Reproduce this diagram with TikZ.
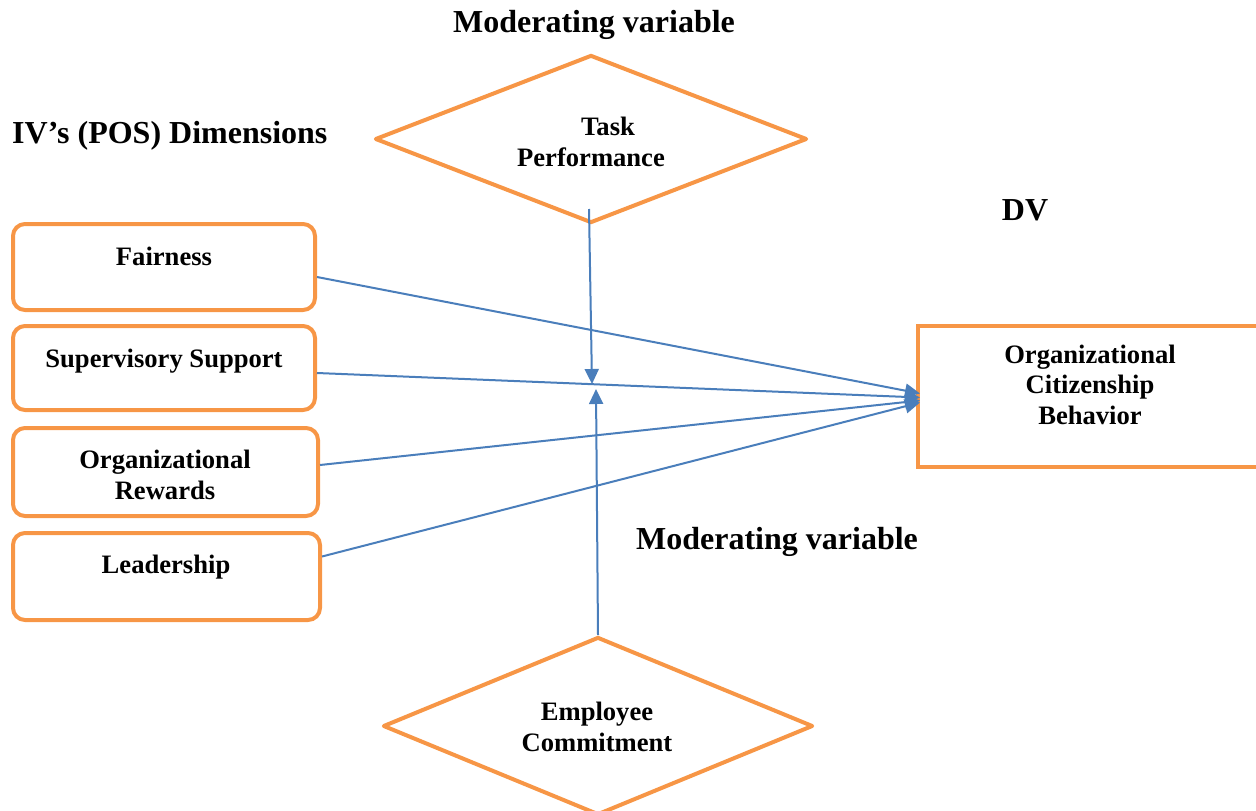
\documentclass[tikz,border=0pt]{standalone}
\usepackage{fontspec}
\setmainfont{Liberation Serif}
\usetikzlibrary{shapes.geometric,arrows.meta,calc}
\definecolor{orng}{HTML}{F79646}
\definecolor{blu}{HTML}{4A7EBB}
\begin{document}
\begin{tikzpicture}[x=1pt,y=-1pt,
  ivbox/.style={draw=orng,line width=4pt,rounded corners=12pt,anchor=north west,inner sep=0pt,outer sep=0pt},
  dvbox/.style={draw=orng,line width=4pt,anchor=north west,inner sep=0pt,outer sep=0pt},
  dia/.style={draw=orng,line width=4pt,diamond,line join=round,inner sep=0pt},
  lbl/.style={font=\fontsize{26.6}{30.5}\selectfont\bfseries,align=center,inner sep=0pt},
  ttl/.style={font=\fontsize{32}{36}\selectfont\bfseries,inner sep=0pt},
  conn/.style={draw=blu,line width=2pt,-{Triangle[length=15pt,width=14pt]}}]
\useasboundingbox (0,0) rectangle (1256,811);
\clip (0,0) rectangle (1256,811);
% titles
\node[ttl] (t1) at (594,25) {Moderating variable};
\node[ttl,anchor=west] (t2) at (12,136) {IV’s (POS) Dimensions};
\node[ttl] (t3) at (1025,210) {DV};
\node[ttl] (t4) at (777,542) {Moderating variable};
% IV boxes
\node[ivbox,minimum width=302pt,minimum height=86pt] (fair) at (13,224) {};
\node[ivbox,minimum width=302pt,minimum height=84pt] (sup) at (13,326) {};
\node[ivbox,minimum width=305pt,minimum height=88pt] (rew) at (13,428) {};
\node[ivbox,minimum width=307pt,minimum height=87pt] (lead) at (13,533) {};
\node[lbl] (fairt) at (164,256) {Fairness};
\node[lbl] (supt) at (164,361) {Supervisory Support};
\node[lbl] (rewt) at (165,475) {Organizational\\Rewards};
\node[lbl] (leadt) at (166,567) {Leadership};
% DV box
\node[dvbox,minimum width=344pt,minimum height=141pt] (ocb) at (918,326) {};
\node[lbl] (ocbt) at (1090,384.5) {Organizational\\Citizenship\\Behavior};
% diamonds
\node[dia,minimum width=432pt,minimum height=168pt] (td) at (591,139) {};
\node[lbl] (tdt) at (591,142) {\hspace*{34pt}Task\\Performance};
\node[dia,minimum width=430pt,minimum height=178pt] (bd) at (598,726) {};
\node[lbl] (bdt) at (597,727) {Employee\\Commitment};
% junction points
\coordinate (mtop) at (592,384);
\coordinate (mbot) at (596,389);
% connectors
\draw[conn] ($(fair.east)+(2,10)$) -- ($(ocb.west)+(2,-3)$);
\draw[conn] ($(sup.east)+(2,5)$) -- ($(ocb.west)+(2,1)$);
\draw[conn] ($(rew.east)+(2,-7)$) -- ($(ocb.west)+(2,4)$);
\draw[conn] ($(lead.east)+(2,-20)$) -- ($(ocb.west)+(2,6)$);
\draw[conn] ($(td.south)+(-2,-16)$) -- (mtop);
\draw[conn] (bd.north) -- (mbot);
\end{tikzpicture}
\end{document}
